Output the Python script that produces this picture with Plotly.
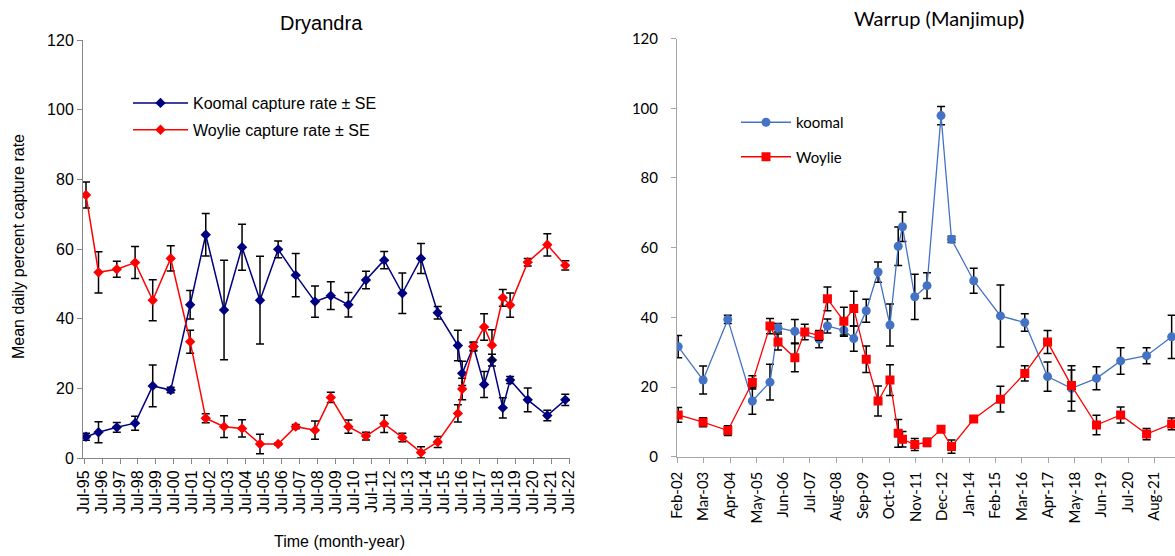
import plotly.graph_objects as go

# ---------------- Dryandra (left) ----------------
dry_dates = ["1995-08-10", "1996-04-20", "1997-04-27", "1998-05-04", "1999-04-27", "2000-04-27",
             "2001-05-27", "2002-04-09", "2003-04-16", "2004-04-16", "2005-04-16", "2006-04-20",
             "2007-04-12", "2008-05-08", "2009-03-25", "2010-03-18", "2011-03-10", "2012-03-14",
             "2013-03-18", "2014-04-01", "2015-03-07", "2016-04-20", "2016-07-16", "2017-03-03",
             "2017-10-05", "2018-03-14", "2018-10-20", "2019-03-18", "2020-03-10", "2021-04-12",
             "2022-04-12"]
dry_koomal = [6.1, 7.4, 8.8, 10.0, 20.7, 19.5, 44.0, 64.1, 42.5, 60.5, 45.3, 59.9, 52.5, 44.9, 46.6,
              44.0, 51.1, 56.8, 47.3, 57.3, 41.7, 32.3, 24.3, 32.0, 21.1, 28.1, 14.4, 22.4, 16.7, 12.2, 16.7]
dry_koomal_se = [1.0, 3.0, 1.4, 2.0, 6.0, 0.8, 4.1, 6.1, 14.3, 6.6, 12.6, 2.4, 6.2, 4.5, 4.0,
                 3.5, 2.5, 2.5, 5.8, 4.3, 1.8, 4.4, 3.5, 1.1, 3.7, 1.7, 2.9, 1.0, 3.4, 1.5, 1.6]
dry_woylie = [75.5, 53.3, 54.2, 56.1, 45.3, 57.3, 33.4, 11.4, 9.0, 8.5, 4.0, 4.0, 9.0, 8.0, 17.4,
              9.0, 6.3, 9.8, 5.9, 1.6, 4.6, 12.8, 19.8, 32.0, 37.6, 32.4, 46.0, 43.9, 56.2, 61.2, 55.3]
dry_woylie_se = [3.7, 5.9, 2.3, 4.6, 5.9, 3.6, 3.3, 1.3, 3.1, 2.5, 2.8, 0.3, 0.6, 2.6, 1.5,
                 1.9, 1.1, 2.5, 1.2, 1.6, 1.6, 2.5, 3.1, 1.3, 3.8, 4.4, 2.4, 3.5, 1.1, 3.2, 1.3]
dry_tick_years = list(range(1995, 2023))
dry_tick_labels = ["Jul-%02d" % (y % 100) for y in dry_tick_years]
dry_tick_vals = ["%d-07-01" % y for y in dry_tick_years]

# ---------------- Warrup (right) ----------------
war_dates_w = ["2002-02-15", "2003-02-21", "2004-02-25", "2005-02-25", "2005-11-15", "2006-03-15",
               "2006-11-21", "2007-04-18", "2007-11-18", "2008-03-21", "2008-11-21", "2009-04-18",
               "2009-10-21", "2010-04-15", "2010-10-10", "2011-02-10", "2011-04-15", "2011-10-15",
               "2012-04-15", "2012-11-10", "2013-04-15", "2014-03-12", "2015-04-15", "2016-04-12",
               "2017-03-18", "2018-03-10", "2019-03-18", "2020-03-12", "2021-04-03", "2022-04-12"]
war_woylie = [12.0, 9.9, 7.5, 21.3, 37.5, 32.9, 28.4, 35.8, 34.8, 45.3, 38.9, 42.5, 28.0, 16.0, 22.0,
              6.7, 5.0, 3.5, 4.1, 7.9, 2.9, 10.8, 16.5, 23.9, 32.9, 20.4, 9.1, 12.0, 6.5, 9.4]
war_woylie_se = [2.1, 1.3, 1.4, 1.9, 2.2, 2.3, 4.0, 2.2, 1.4, 3.4, 4.0, 5.0, 3.8, 4.3, 4.4,
                 4.0, 2.2, 1.7, 1.2, 0.9, 1.9, 0.5, 3.7, 2.2, 3.3, 4.5, 2.8, 2.3, 1.6, 1.7]
war_dates_k = ["2002-02-15", "2003-02-21", "2004-02-25", "2005-02-25", "2005-11-15", "2006-03-15",
               "2006-11-21", "2007-11-18", "2008-03-21", "2008-11-21", "2009-04-18", "2009-10-21",
               "2010-04-15", "2010-10-10", "2011-02-10", "2011-04-15", "2011-10-15", "2012-04-15",
               "2012-11-10", "2013-04-15", "2014-03-12", "2015-04-15", "2016-04-12", "2017-03-18",
               "2018-03-10", "2019-03-18", "2020-03-12", "2021-04-03", "2022-04-12"]
war_koomal = [31.6, 22.0, 39.4, 16.0, 21.4, 37.0, 36.0, 33.7, 37.5, 36.3, 33.9, 41.9, 53.0, 37.8,
              60.4, 66.0, 45.9, 49.1, 97.9, 62.4, 50.5, 40.4, 38.5, 23.0, 19.6, 22.5, 27.5, 29.0, 34.4]
war_koomal_se = [3.2, 4.0, 1.2, 3.8, 5.1, 1.2, 3.4, 2.4, 2.0, 1.7, 3.6, 3.3, 2.9, 6.0,
                 5.5, 4.2, 6.5, 3.7, 2.6, 0.9, 3.6, 8.9, 2.5, 4.2, 6.5, 3.3, 3.8, 2.3, 6.2]
war_tick_vals = ["2002-02-01", "2003-03-01", "2004-04-01", "2005-05-01", "2006-06-01", "2007-07-01",
                 "2008-08-01", "2009-09-01", "2010-10-01", "2011-11-01", "2012-12-01", "2014-01-01",
                 "2015-02-01", "2016-03-01", "2017-04-01", "2018-05-01", "2019-06-01", "2020-07-01",
                 "2021-08-01"]
war_tick_labels = ["Feb-02", "Mar-03", "Apr-04", "May-05", "Jun-06", "Jul-07", "Aug-08", "Sep-09",
                   "Oct-10", "Nov-11", "Dec-12", "Jan-14", "Feb-15", "Mar-16", "Apr-17", "May-18",
                   "Jun-19", "Jul-20", "Aug-21"]

ARIAL = "Liberation Sans, Arial, sans-serif"
CAL = "Lato, Open Sans, sans-serif"

fig = go.Figure()

def err(vals, w):
    return dict(type="data", array=vals, visible=True, color="black", thickness=1.5, width=w)

fig.add_trace(go.Scatter(x=dry_dates, y=dry_koomal, mode="lines+markers", name="Koomal capture rate ± SE",
                         line=dict(color="#000080", width=1.5),
                         marker=dict(symbol="diamond", size=8, color="#000080"),
                         error_y=err(dry_koomal_se, 4), xaxis="x", yaxis="y",
                         legend="legend", legendgroup="a"))
fig.add_trace(go.Scatter(x=dry_dates, y=dry_woylie, mode="lines+markers", name="Woylie capture rate ± SE",
                         line=dict(color="#ff0000", width=1.5),
                         marker=dict(symbol="diamond", size=8, color="#ff0000"),
                         error_y=err(dry_woylie_se, 4), xaxis="x", yaxis="y",
                         legend="legend", legendgroup="b"))
fig.add_trace(go.Scatter(x=war_dates_k, y=war_koomal, mode="lines+markers", name="koomal",
                         line=dict(color="#4472c4", width=1.3),
                         marker=dict(symbol="circle", size=9, color="#4472c4"),
                         error_y=err(war_koomal_se, 4), xaxis="x2", yaxis="y2",
                         legend="legend2", legendgroup="c"))
fig.add_trace(go.Scatter(x=war_dates_w, y=war_woylie, mode="lines+markers", name="Woylie",
                         line=dict(color="#ff0000", width=1.3),
                         marker=dict(symbol="square", size=9, color="#ff0000"),
                         error_y=err(war_woylie_se, 4), xaxis="x2", yaxis="y2",
                         legend="legend2", legendgroup="d"))

axis_common = dict(showgrid=False, zeroline=False, showline=True, ticks="outside", ticklen=5,
                   tickwidth=1, automargin=False)

fig.update_layout(
    width=1175, height=556,
    margin=dict(l=0, r=0, t=0, b=0, autoexpand=False),
    paper_bgcolor="white", plot_bgcolor="white",
    xaxis=dict(**axis_common, domain=[83 / 1175, 570 / 1175], type="date",
               range=["1995-06-10", "2022-07-17"], tickmode="array",
               tickvals=dry_tick_vals, ticktext=dry_tick_labels, tickangle=-90,
               linecolor="#868686", tickcolor="#868686",
               tickfont=dict(family=ARIAL, size=16, color="black"), anchor="y"),
    yaxis=dict(**axis_common, domain=[1 - 458 / 556, 1 - 40 / 556], range=[0, 120], dtick=20,
               linecolor="#868686", tickcolor="#868686",
               tickfont=dict(family=ARIAL, size=16, color="black"), anchor="x"),
    xaxis2=dict(**axis_common, domain=[677 / 1175, 1.0], type="date",
                range=["2002-01-28", "2022-06-01"], tickmode="array",
                tickvals=war_tick_vals, ticktext=war_tick_labels, tickangle=-90,
                linecolor="#a6a6a6", tickcolor="#a6a6a6", ticklabelstandoff=3,
                tickfont=dict(family=CAL, size=15, color="black"), anchor="y2"),
    yaxis2=dict(**axis_common, domain=[1 - 456.7 / 556, 1 - 38.6 / 556], range=[0, 120], dtick=20,
                linecolor="#a6a6a6", tickcolor="#a6a6a6", ticklabelstandoff=10,
                tickfont=dict(family=CAL, size=15, color="black"), anchor="x2"),
    legend=dict(x=128 / 1175, y=1 - 86 / 556, xanchor="left", yanchor="top",
                bgcolor="rgba(0,0,0,0)", traceorder="grouped", tracegroupgap=3,
                font=dict(family=ARIAL, size=16, color="black"), itemwidth=55),
    legend2=dict(x=736 / 1175, y=1 - 106 / 556, xanchor="left", yanchor="top",
                 bgcolor="rgba(0,0,0,0)", traceorder="grouped", tracegroupgap=12,
                 font=dict(family=CAL, size=15, color="black"), itemwidth=50),
    annotations=[
        dict(text="Dryandra", x=321 / 1175, y=1 - 23 / 556, xref="paper", yref="paper",
             xanchor="center", yanchor="middle",
             showarrow=False, font=dict(family=ARIAL, size=20, color="black")),
        dict(text="Warrup (Manjimup<b>)</b>", x=939 / 1175, y=1 - 18 / 556, xref="paper", yref="paper",
             xanchor="center", yanchor="middle",
             showarrow=False, font=dict(family=CAL, size=20, color="black")),
        dict(text="Mean daily percent capture rate", x=18 / 1175, y=1 - 247 / 556, xref="paper",
             yref="paper", showarrow=False, textangle=-90, xanchor="center", yanchor="middle",
             font=dict(family=ARIAL, size=16, color="black")),
        dict(text="Time (month-year)", x=340 / 1175, y=1 - 541 / 556, xref="paper", yref="paper",
             xanchor="center", yanchor="middle",
             showarrow=False, font=dict(family=ARIAL, size=16, color="black")),
    ],
)

fig.write_html("out.html")
